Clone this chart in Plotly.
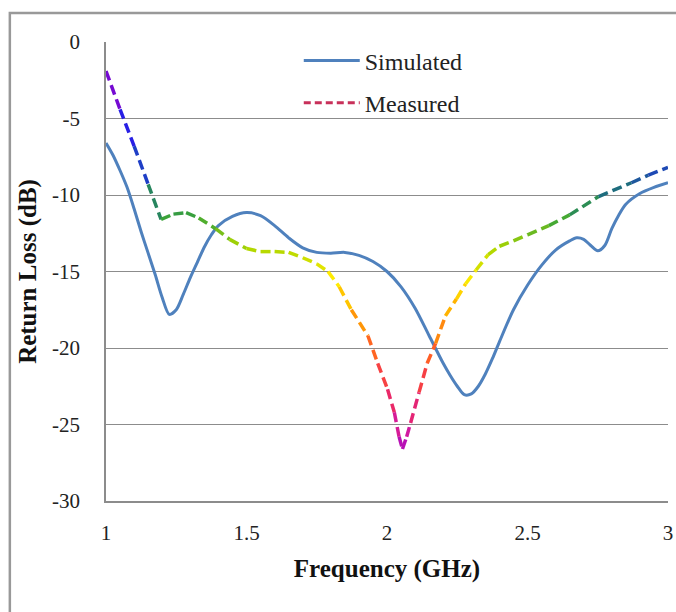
import plotly.graph_objects as go

# ---------------- data ----------------
sim_freq = [1.0, 1.025, 1.05, 1.075, 1.1, 1.125, 1.15, 1.175, 1.2, 1.225, 1.25, 1.275, 1.3,
            1.325, 1.35, 1.375, 1.4, 1.45, 1.5, 1.55, 1.6, 1.65, 1.7, 1.75, 1.8, 1.85, 1.9,
            1.95, 2.0, 2.05, 2.1, 2.15, 2.2, 2.225, 2.25, 2.275, 2.3, 2.325, 2.35, 2.375,
            2.4, 2.45, 2.5, 2.55, 2.6, 2.65, 2.675, 2.7, 2.725, 2.75, 2.775, 2.8, 2.825,
            2.85, 2.9, 2.95, 3.0]
sim_rl = [-6.6, -7.4, -8.4, -9.5, -10.9, -12.4, -13.8, -15.2, -16.7, -17.8, -17.5, -16.5,
          -15.4, -14.4, -13.4, -12.6, -12.0, -11.4, -11.15, -11.35, -12.0, -12.8, -13.45,
          -13.75, -13.8, -13.75, -13.95, -14.35, -15.0, -16.0, -17.4, -19.2, -21.0, -21.8,
          -22.5, -23.05, -23.0, -22.5, -21.7, -20.7, -19.6, -17.5, -15.9, -14.6, -13.6,
          -13.0, -12.8, -12.9, -13.3, -13.65, -13.3, -12.2, -11.3, -10.6, -9.9, -9.5, -9.2]

meas_freq = [1.0, 1.05, 1.1, 1.15, 1.196, 1.24, 1.285, 1.33, 1.39, 1.44, 1.5, 1.55, 1.6,
             1.65, 1.7, 1.75, 1.79, 1.83, 1.873, 1.932, 1.967, 2.002, 2.026, 2.043, 2.055,
             2.07, 2.084, 2.114, 2.143, 2.173, 2.208, 2.247, 2.28, 2.317, 2.36, 2.4, 2.45,
             2.5, 2.576, 2.65, 2.753, 2.87, 2.93, 3.0]
meas_rl = [-1.9, -4.4, -6.8, -9.3, -11.6, -11.25, -11.15, -11.5, -12.2, -12.9, -13.5,
           -13.7, -13.7, -13.75, -14.1, -14.5, -15.0, -16.0, -17.5, -19.2, -21.0, -22.7,
           -24.2, -25.8, -26.6, -25.8, -24.9, -22.9, -21.0, -19.7, -17.9, -16.8, -15.8,
           -14.9, -13.9, -13.35, -13.0, -12.6, -12.0, -11.3, -10.1, -9.2, -8.7, -8.2]

y_tickvals = [0, -5, -10, -15, -20, -25, -30]
y_ticktext = ["0", "-5", "-10", "-15", "-20", "-25", "-30"]
x_tickvals = [1, 1.5, 2, 2.5, 3]
x_ticktext = ["1", "1.5", "2", "2.5", "3"]

# gradient colour stops for the measured line (by return-loss value)
grad_stops = [(-2.0, (155, 0, 200)), (-5.5, (40, 30, 230)), (-8.0, (30, 60, 200)),
              (-10.0, (30, 120, 110)), (-11.5, (60, 165, 55)), (-13.5, (175, 215, 0)),
              (-15.5, (255, 235, 0)), (-17.8, (255, 165, 0)), (-20.5, (255, 90, 40)),
              (-23.0, (240, 45, 90)), (-25.3, (210, 25, 160)), (-27.0, (160, 10, 200))]


def grad_color(v):
    if v >= grad_stops[0][0]:
        c = grad_stops[0][1]
    elif v <= grad_stops[-1][0]:
        c = grad_stops[-1][1]
    else:
        for (y0, c0), (y1, c1) in zip(grad_stops[:-1], grad_stops[1:]):
            if y1 <= v <= y0:
                t = (y0 - v) / (y0 - y1)
                c = tuple(round(a + (b - a) * t) for a, b in zip(c0, c1))
                break
    return "rgb(%d,%d,%d)" % c


SERIF = "Liberation Serif"
GRID = "#8c8c8c"

fig = go.Figure()

fig.add_trace(go.Scatter(
    x=sim_freq, y=sim_rl, mode="lines", name="Simulated",
    line=dict(color="#4F81BD", width=3, shape="spline", smoothing=0.8),
    legendgroup="sim",
))

for i in range(len(meas_freq) - 1):
    col = grad_color((meas_rl[i] + meas_rl[i + 1]) / 2)
    fig.add_trace(go.Scatter(
        x=meas_freq[i:i + 2], y=meas_rl[i:i + 2], mode="lines",
        line=dict(color=col, width=3.5, dash="10px,5px"),
        showlegend=False, legendgroup="meas", hoverinfo="x+y",
    ))

fig.add_trace(go.Scatter(
    x=[None], y=[None], mode="lines", name="Measured",
    line=dict(color="#c8305a", width=3, dash="7px,4px"), legendgroup="meas",
))

fig.update_layout(
    width=676, height=612,
    margin=dict(l=106, r=3, t=42, b=111),
    paper_bgcolor="white", plot_bgcolor="white",
    font=dict(family=SERIF, color="#222", size=20),
    showlegend=True,
    legend=dict(x=0.343, y=1.008, xanchor="left", yanchor="top",
                bgcolor="rgba(0,0,0,0)", font=dict(family=SERIF, size=24, color="#222"),
                tracegroupgap=8, itemwidth=56),
    xaxis=dict(range=[1, 3], tickvals=x_tickvals, ticktext=x_ticktext,
               showgrid=False, zeroline=False, showline=True, linecolor=GRID, linewidth=1.5,
               ticks="", tickfont=dict(family=SERIF, size=21, color="#222"),
               ticklabelstandoff=12, ticklabeloverflow="allow",
               title=dict(text="<b>Frequency (GHz)</b>", font=dict(family=SERIF, size=25, color="#111"),
                          standoff=16)),
    yaxis=dict(range=[-30, 0], tickvals=y_tickvals, ticktext=y_ticktext,
               showgrid=True, gridcolor=GRID, gridwidth=1.4, zeroline=False,
               showline=True, linecolor=GRID, linewidth=1.5,
               ticks="", tickfont=dict(family=SERIF, size=21, color="#222"),
               ticklabelstandoff=20,
               title=dict(text="<b>Return Loss (dB)</b>", font=dict(family=SERIF, size=25, color="#111"),
                          standoff=8)),
    shapes=[dict(type="rect", xref="paper", yref="paper",
                 x0=-0.1711, x1=1.2, y0=-0.4, y1=1.0632,
                 line=dict(color="#999999", width=2.5), fillcolor="rgba(0,0,0,0)", layer="below")],
)

fig.write_html("out.html")
